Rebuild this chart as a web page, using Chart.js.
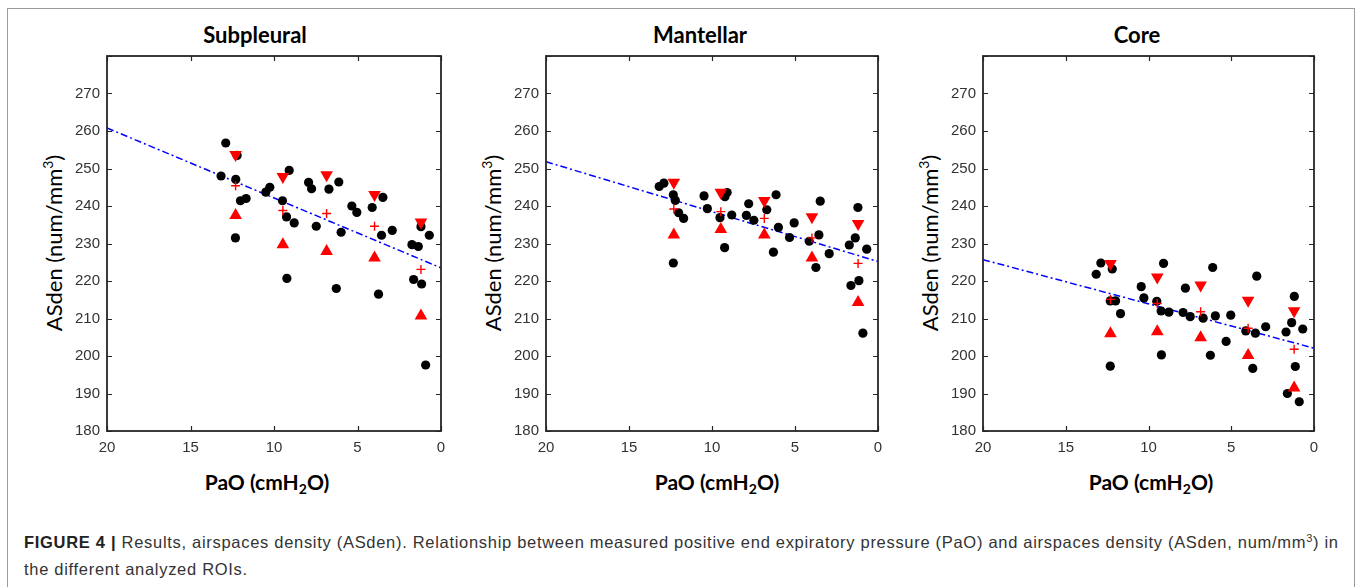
<!DOCTYPE html>
<html>
<head>
<meta charset="utf-8">
<script src="https://cdn.jsdelivr.net/npm/chart.js@4.4.0/dist/chart.umd.min.js"></script>
<style>
  body { margin: 0; width: 1360px; height: 587px; overflow: hidden; background: #fff; position: relative; font-family: Lato, sans-serif; }
  .frame { position: absolute; left: 7px; top: 8px; width: 1346px; height: 640px; border: 1.5px solid #9a9a9a; }
  canvas { position: absolute; }
  .title, .xlab { position: absolute; font-weight: bold; color: #000; transform: translate(-50%, -50%); white-space: nowrap; }
  .title { font-size: 22px; top: 34px; }
  .xlab { font-size: 21px; top: 481px; }
  .xlab sub { font-size: 14px; vertical-align: -4px; line-height: 0; }
  .ylab { position: absolute; top: 243px; font-size: 22px; color: #000; white-space: nowrap; transform: translate(-50%, -50%) rotate(-90deg); }
  .ylab sup { font-size: 14px; vertical-align: 9px; line-height: 0; }
  .caption { position: absolute; left: 24px; top: 529px; font-family: "Liberation Sans", Arial, sans-serif; font-size: 16.5px; letter-spacing: 0.7px; line-height: 27px; color: #333; white-space: nowrap; }
  .caption sup { font-size: 11px; vertical-align: 6px; line-height: 0; }
</style>
</head>
<body>
<div class="frame"></div>

<div class="title" style="left:255px">Subpleural</div>
<div class="title" style="left:700px">Mantellar</div>
<div class="title" style="left:1137px">Core</div>

<div class="ylab" style="left:53px">ASden (num/mm<sup>3</sup>)</div>
<div class="ylab" style="left:492px">ASden (num/mm<sup>3</sup>)</div>
<div class="ylab" style="left:929px">ASden (num/mm<sup>3</sup>)</div>

<div class="xlab" style="left:267px">PaO (cmH<sub>2</sub>O)</div>
<div class="xlab" style="left:717px">PaO (cmH<sub>2</sub>O)</div>
<div class="xlab" style="left:1151px">PaO (cmH<sub>2</sub>O)</div>

<canvas id="c1" width="405" height="420" style="left:55px; top:40px"></canvas>
<canvas id="c2" width="403" height="420" style="left:494px; top:40px"></canvas>
<canvas id="c3" width="402" height="420" style="left:931px; top:40px"></canvas>

<div class="caption"><b style="color:#222">FIGURE 4 |</b> Results, airspaces density (ASden). Relationship between measured positive end expiratory pressure (PaO) and airspaces density (ASden, num/mm<sup>3</sup>) in<br>the different analyzed ROIs.</div>

<script>
// PaO of the five pressure steps (red markers)
var stepPao = [12.3, 9.47, 6.85, 3.98, 1.2];
var fitPao = [20, 0];

// Subpleural
var subPao = [12.89, 12.21, 13.17, 12.29, 12.01, 11.67, 12.31, 10.49, 10.25, 9.09, 9.49, 9.25, 8.79, 9.23,
  7.93, 7.75, 7.47, 6.71, 6.12, 5.98, 6.27, 5.34, 5.04, 4.12, 3.48, 3.56, 2.92, 3.74,
  1.74, 1.36, 1.20, 0.70, 1.64, 1.16, 0.92];
var subDen = [256.8, 253.5, 248.0, 247.1, 241.4, 242.0, 231.5, 243.7, 245.0, 249.5, 241.4, 237.1, 235.5, 220.7,
  246.3, 244.6, 234.6, 244.5, 246.4, 233.0, 218.0, 240.0, 238.3, 239.6, 242.3, 232.2, 233.5, 216.5,
  229.7, 229.2, 234.5, 232.2, 220.4, 219.2, 197.6];
var subHigh = [253.7, 247.8, 248.3, 243.0, 235.7];
var subMean = [245.4, 238.8, 238.0, 234.6, 223.1];
var subLow = [237.5, 229.7, 227.9, 226.2, 210.7];
var subFit = [260.8, 223.5];

// Mantellar
var manPao = [13.18, 12.90, 12.33, 12.21, 12.01, 11.71, 12.33, 10.48, 10.28, 9.22, 9.09, 9.52, 8.81, 9.24,
  7.79, 7.93, 7.48, 6.70, 6.14, 6.00, 6.30, 5.33, 5.05, 4.14, 3.48, 3.56, 2.94, 3.74,
  1.73, 1.37, 1.21, 0.68, 1.63, 1.15, 0.91];
var manDen = [245.2, 246.1, 243.0, 241.5, 238.2, 236.7, 224.8, 242.7, 239.3, 242.5, 243.6, 236.9, 237.6, 228.9,
  240.6, 237.5, 236.2, 239.0, 243.0, 234.3, 227.7, 231.6, 235.5, 230.6, 241.3, 232.3, 227.3, 223.6,
  229.6, 231.5, 239.6, 228.5, 218.8, 220.1, 206.1];
var manHigh = [246.3, 243.6, 241.4, 237.1, 235.3];
var manMean = [239.2, 238.5, 236.7, 231.5, 224.7];
var manLow = [232.3, 233.8, 232.3, 226.2, 214.3];
var manFit = [251.8, 225.2];

// Core
var corePao = [13.16, 12.88, 12.19, 12.31, 11.99, 11.69, 12.31, 10.44, 10.28, 9.50, 9.24, 9.09, 8.77, 9.22,
  7.91, 7.77, 7.48, 6.70, 6.12, 5.96, 6.26, 5.31, 5.03, 4.12, 3.54, 3.46, 2.92, 3.70,
  1.69, 1.35, 1.19, 0.68, 1.13, 1.61, 0.89];
var coreDen = [221.8, 224.8, 223.2, 214.7, 214.7, 211.3, 197.3, 218.5, 215.5, 214.6, 212.0, 224.7, 211.7, 200.3,
  211.6, 218.1, 210.5, 210.1, 223.6, 210.7, 200.2, 203.9, 210.9, 206.7, 206.1, 221.3, 207.8, 196.7,
  206.4, 208.9, 215.9, 207.2, 197.2, 190.0, 187.8];
var coreHigh = [224.6, 221.0, 218.9, 214.8, 212.0];
var coreMean = [215.1, 214.0, 211.8, 207.4, 201.8];
var coreLow = [206.0, 206.5, 204.9, 200.2, 191.5];
var coreFit = [225.7, 202.1];

function pts(xs, ys) {
  return xs.map(function(x, i) { return { x: x, y: ys[i] }; });
}

// MATLAB-like box with inward tick marks
var boxTicks = {
  id: 'boxTicks',
  afterDatasetsDraw: function(chart) {
    var ctx = chart.ctx, a = chart.chartArea, sx = chart.scales.x, sy = chart.scales.y;
    ctx.save();
    ctx.strokeStyle = '#262626';
    ctx.lineWidth = 1.2;
    ctx.beginPath();
    sx.ticks.forEach(function(t) {
      var px = Math.round(sx.getPixelForValue(t.value)) + 0.5;
      ctx.moveTo(px, a.bottom); ctx.lineTo(px, a.bottom - 5);
      ctx.moveTo(px, a.top); ctx.lineTo(px, a.top + 5);
    });
    sy.ticks.forEach(function(t) {
      var py = Math.round(sy.getPixelForValue(t.value)) + 0.5;
      ctx.moveTo(a.left, py); ctx.lineTo(a.left + 5, py);
      ctx.moveTo(a.right, py); ctx.lineTo(a.right - 5, py);
    });
    ctx.stroke();
    ctx.lineWidth = 1.8;
    ctx.strokeRect(a.left, a.top, a.right - a.left, a.bottom - a.top);
    ctx.restore();
  }
};

function makeChart(id, px, den, high, mean, low, fit) {
  var ctx = document.getElementById(id).getContext('2d');
  return new Chart(ctx, {
    type: 'scatter',
    data: {
      datasets: [
        { data: pts(stepPao, mean), pointStyle: 'cross', pointRadius: 4.5, borderColor: '#ff0000', borderWidth: 1.4, backgroundColor: '#ff0000', order: 0 },
        { data: pts(stepPao, high), pointStyle: 'triangle', rotation: 180, pointRadius: 7.3, backgroundColor: '#ff0000', borderWidth: 0, order: 0 },
        { data: pts(stepPao, low), pointStyle: 'triangle', pointRadius: 7.3, backgroundColor: '#ff0000', borderWidth: 0, order: 0 },
        { data: pts(px, den), pointStyle: 'circle', pointRadius: 4.6, backgroundColor: '#000', borderWidth: 0, order: 1 },
        { type: 'line', data: pts(fitPao, fit), borderColor: '#0000ff', borderWidth: 1.5, borderDash: [7, 3, 2, 3], pointRadius: 0, fill: false, order: 2 }
      ]
    },
    options: {
      responsive: false,
      animation: false,
      events: [],
      layout: { padding: { top: 14, right: 19, left: 0, bottom: 0 } },
      plugins: { legend: { display: false }, tooltip: { enabled: false } },
      scales: {
        x: {
          type: 'linear', min: 0, max: 20, reverse: true,
          grid: { display: false, drawTicks: false },
          border: { display: false },
          ticks: { stepSize: 5, padding: 8, color: '#333', font: { family: 'Liberation Sans', size: 15 } },
          afterFit: function(s) { s.height = 29; }
        },
        y: {
          type: 'linear', min: 180, max: 280,
          grid: { display: false, drawTicks: false },
          border: { display: false },
          ticks: { stepSize: 10, padding: 7, color: '#333', font: { family: 'Liberation Sans', size: 15 },
            callback: function(v) { return v === 280 ? '' : v; } },
          afterFit: function(s) { s.width = 52; }
        }
      }
    },
    plugins: [boxTicks]
  });
}

makeChart('c1', subPao, subDen, subHigh, subMean, subLow, subFit);
makeChart('c2', manPao, manDen, manHigh, manMean, manLow, manFit);
makeChart('c3', corePao, coreDen, coreHigh, coreMean, coreLow, coreFit);
</script>
</body>
</html>
